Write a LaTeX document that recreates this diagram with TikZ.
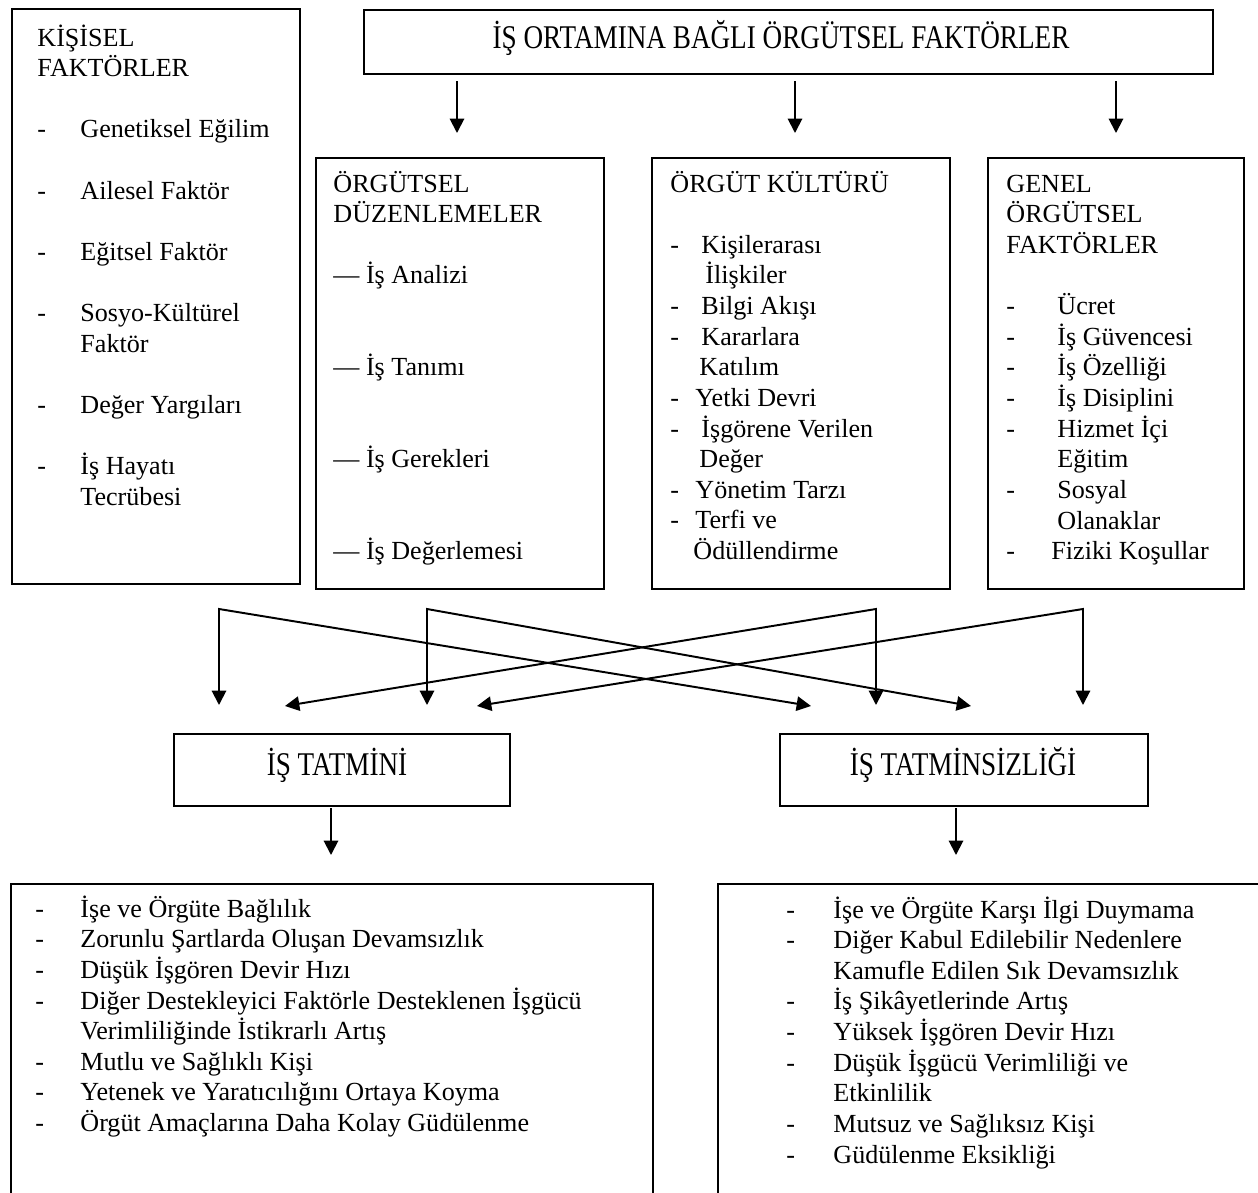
\documentclass[tikz,border=0pt]{standalone}
\usepackage{fontspec}
\setmainfont{Liberation Serif}
\usetikzlibrary{arrows.meta}
\newlength\px
\setlength\px{0.46pt}
% dash column of a given width, and an indent of the same kind
\newcommand\dsh[1]{\makebox[#1\px][l]{-}}
\newcommand\ind[1]{\hspace*{#1\px}}
\newcommand\tall[1]{\scalebox{1}[1.22]{#1}}
\begin{document}
\begin{tikzpicture}[x=0.46pt,y=-0.46pt,
  box/.style={draw, line width=1pt, inner sep=0pt, anchor=north west},
  arr/.style={line width=0.9pt, -{Triangle[length=6.6pt,width=6.6pt]}},
  twoarr/.style={line width=0.9pt, line join=miter, {Triangle[length=6.6pt,width=6.6pt]}-{Triangle[length=6.6pt,width=6.6pt]}},
  txt/.style={anchor=base west, inner sep=0pt, font=\fontsize{12}{14.08}\selectfont},
  ttl/.style={anchor=base, inner sep=0pt, font=\fontsize{12.5}{15}\selectfont}]
\useasboundingbox (0,0) rectangle (1258,1193);

% ---- boxes ----
\node[box, minimum width=288\px, minimum height=575\px] (kis) at (11,8) {};
\node[box, minimum width=849\px, minimum height=64\px] (top) at (363,9) {};
\node[box, minimum width=288\px, minimum height=431\px] (duz) at (315,157) {};
\node[box, minimum width=298\px, minimum height=431\px] (kul) at (651,157) {};
\node[box, minimum width=256\px, minimum height=431\px] (gen) at (987,157) {};
\node[box, minimum width=336\px, minimum height=72\px] (tat) at (173,733) {};
\node[box, minimum width=368\px, minimum height=72\px] (tsz) at (779,733) {};
\node[box, minimum width=642\px, minimum height=380\px] (sonA) at (10,883) {};
\node[box, minimum width=600\px, minimum height=380\px] (sonB) at (717,883) {};

% ---- titles ----
\node[ttl] (topT) at (781,48) {\tall{İŞ ORTAMINA BAĞLI ÖRGÜTSEL FAKTÖRLER}};
\node[ttl] (tatT) at (337,775) {\tall{İŞ TATMİNİ}};
\node[ttl] (tszT) at (963,775) {\tall{İŞ TATMİNSİZLİĞİ}};

% ---- box texts ----
\node[txt] (kisT) at (37,46) {\begin{tabular}[t]{@{}l@{}}
KİŞİSEL\\
FAKTÖRLER\\
\\
\dsh{43}Genetiksel Eğilim\\
\\
\dsh{43}Ailesel Faktör\\
\\
\dsh{43}Eğitsel Faktör\\
\\
\dsh{43}Sosyo-Kültürel\\
\ind{43}Faktör\\
\\
\dsh{43}Değer Yargıları\\
\\
\dsh{43}İş Hayatı\\
\ind{43}Tecrübesi
\end{tabular}};

\node[txt] (duzT) at (333,192) {\begin{tabular}[t]{@{}l@{}}
ÖRGÜTSEL\\
DÜZENLEMELER\\
\\
— İş Analizi\\
\\
\\
— İş Tanımı\\
\\
\\
— İş Gerekleri\\
\\
\\
— İş Değerlemesi
\end{tabular}};

\node[txt] (kulT) at (670,192) {\begin{tabular}[t]{@{}l@{}}
ÖRGÜT KÜLTÜRÜ\\
\\
\dsh{31}Kişilerarası\\
\ind{35}İlişkiler\\
\dsh{31}Bilgi Akışı\\
\dsh{31}Kararlara\\
\ind{29}Katılım\\
\dsh{25}Yetki Devri\\
\dsh{31}İşgörene Verilen\\
\ind{29}Değer\\
\dsh{25}Yönetim Tarzı\\
\dsh{25}Terfi ve\\
\ind{23}Ödüllendirme
\end{tabular}};

\node[txt] (genT) at (1006,192) {\begin{tabular}[t]{@{}l@{}}
GENEL\\
ÖRGÜTSEL\\
FAKTÖRLER\\
\\
\dsh{51}Ücret\\
\dsh{51}İş Güvencesi\\
\dsh{51}İş Özelliği\\
\dsh{51}İş Disiplini\\
\dsh{51}Hizmet İçi\\
\ind{51}Eğitim\\
\dsh{51}Sosyal\\
\ind{51}Olanaklar\\
\dsh{45}Fiziki Koşullar
\end{tabular}};

\node[txt] (sonAT) at (35,917) {\begin{tabular}[t]{@{}l@{}}
\dsh{45}İşe ve Örgüte Bağlılık\\
\dsh{45}Zorunlu Şartlarda Oluşan Devamsızlık\\
\dsh{45}Düşük İşgören Devir Hızı\\
\dsh{45}Diğer Destekleyici Faktörle Desteklenen İşgücü\\
\ind{45}Verimliliğinde İstikrarlı Artış\\
\dsh{45}Mutlu ve Sağlıklı Kişi\\
\dsh{45}Yetenek ve Yaratıcılığını Ortaya Koyma\\
\dsh{45}Örgüt Amaçlarına Daha Kolay Güdülenme
\end{tabular}};

\node[txt] (sonBT) at (786,918) {\begin{tabular}[t]{@{}l@{}}
\dsh{47}İşe ve Örgüte Karşı İlgi Duymama\\
\dsh{47}Diğer Kabul Edilebilir Nedenlere\\
\ind{47}Kamufle Edilen Sık Devamsızlık\\
\dsh{47}İş Şikâyetlerinde Artış\\
\dsh{47}Yüksek İşgören Devir Hızı\\
\dsh{47}Düşük İşgücü Verimliliği ve\\
\ind{47}Etkinlilik\\
\dsh{47}Mutsuz ve Sağlıksız Kişi\\
\dsh{47}Güdülenme Eksikliği
\end{tabular}};

% ---- arrows from the top box ----
\coordinate (d1) at (457,81);  \coordinate (d1e) at (457,133);
\coordinate (d2) at (795,81);  \coordinate (d2e) at (795,133);
\coordinate (d3) at (1116,81); \coordinate (d3e) at (1116,133);
\draw[arr] (d1) -- (d1e);
\draw[arr] (d2) -- (d2e);
\draw[arr] (d3) -- (d3e);

% ---- crossing arrows ----
\coordinate (cA) at (219,609);  \coordinate (cAd) at (219,705);  \coordinate (cAx) at (811,706);
\coordinate (cB) at (427,609);  \coordinate (cBd) at (427,705);  \coordinate (cBx) at (971,706);
\coordinate (cC) at (876,609);  \coordinate (cCd) at (876,705);  \coordinate (cCx) at (285,706);
\coordinate (cD) at (1083,609); \coordinate (cDd) at (1083,705); \coordinate (cDx) at (477,706);
\draw[twoarr] (cAd) -- (cA) -- (cAx);
\draw[twoarr] (cBd) -- (cB) -- (cBx);
\draw[twoarr] (cCd) -- (cC) -- (cCx);
\draw[twoarr] (cDd) -- (cD) -- (cDx);

% ---- arrows to the result boxes ----
\coordinate (r1) at (331,808); \coordinate (r1e) at (331,855);
\coordinate (r2) at (956,808); \coordinate (r2e) at (956,855);
\draw[arr] (r1) -- (r1e);
\draw[arr] (r2) -- (r2e);
\end{tikzpicture}
\end{document}
